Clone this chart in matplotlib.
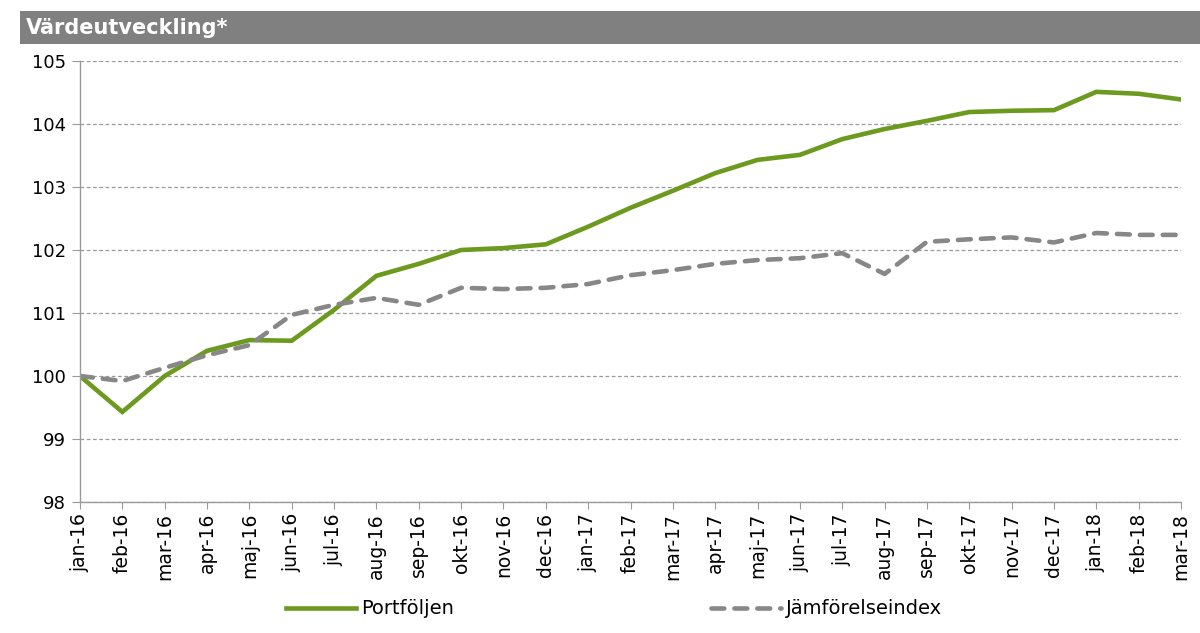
import numpy as np
import matplotlib
matplotlib.use('Agg')
import matplotlib.pyplot as plt
from matplotlib.patches import Rectangle

months = ['jan-16', 'feb-16', 'mar-16', 'apr-16', 'maj-16', 'jun-16', 'jul-16',
          'aug-16', 'sep-16', 'okt-16', 'nov-16', 'dec-16', 'jan-17', 'feb-17',
          'mar-17', 'apr-17', 'maj-17', 'jun-17', 'jul-17', 'aug-17', 'sep-17',
          'okt-17', 'nov-17', 'dec-17', 'jan-18', 'feb-18', 'mar-18']

portfoljen = [100.00, 99.43, 100.00, 100.40, 100.57, 100.56, 101.05, 101.59,
              101.78, 102.00, 102.03, 102.09, 102.37, 102.67, 102.94, 103.22,
              103.43, 103.51, 103.76, 103.92, 104.05, 104.19, 104.21, 104.22,
              104.51, 104.48, 104.39]

jamforelse = [100.00, 99.92, 100.13, 100.33, 100.49, 100.97, 101.13, 101.24,
              101.13, 101.40, 101.38, 101.40, 101.46, 101.60, 101.68, 101.78,
              101.84, 101.87, 101.95, 101.62, 102.13, 102.17, 102.20, 102.12,
              102.27, 102.24, 102.24]

yticks = [98, 99, 100, 101, 102, 103, 104, 105]

green = '#6b9a1e'
gray = '#878787'

fig = plt.figure(figsize=(12, 6.33), dpi=100)

# title bar
fig.patches.append(Rectangle((20 / 1200, 1 - 44 / 633), 1180 / 1200, 33 / 633,
                             transform=fig.transFigure, facecolor='#808080',
                             edgecolor='none'))
fig.text(26 / 1200, 1 - 28 / 633, 'Värdeutveckling*', color='white',
         fontsize=15, fontweight='bold', va='center', ha='left')

ax = fig.add_axes([80 / 1200, 1 - 502 / 633, 1101 / 1200, 441 / 633])

x = np.arange(len(months))
ax.plot(x, portfoljen, color=green, lw=3.3, label='Portföljen',
        solid_joinstyle='miter')
ax.plot(x, jamforelse, color=gray, lw=3.3, label='Jämförelseindex',
        dashes=(2.8, 2.2), dash_capstyle='round')

ax.set_xlim(0, len(months) - 1)
ax.set_ylim(98, 105)
ax.set_yticks(yticks)
ax.set_yticklabels([str(v) for v in yticks], fontsize=13)
ax.set_xticks(x)
ax.set_xticklabels(months, rotation=90, fontsize=13.5)

ax.yaxis.grid(True, linestyle=(0, (3, 2)), color='#9a9a9a', lw=0.9)
ax.set_axisbelow(True)
for s in ['top', 'right']:
    ax.spines[s].set_visible(False)
for s in ['left', 'bottom']:
    ax.spines[s].set_color('#9a9a9a')
    ax.spines[s].set_linewidth(1.0)
ax.tick_params(axis='y', length=6, color='#9a9a9a', pad=4)
ax.tick_params(axis='x', length=5, color='#9a9a9a', pad=3)

fig.legend(loc='center', bbox_to_anchor=(614 / 1200, 1 - 609 / 633), ncol=2,
           frameon=False, fontsize=14, handlelength=3.6, handletextpad=0.25,
           columnspacing=13.2)

fig.savefig('out.png', dpi=100)
